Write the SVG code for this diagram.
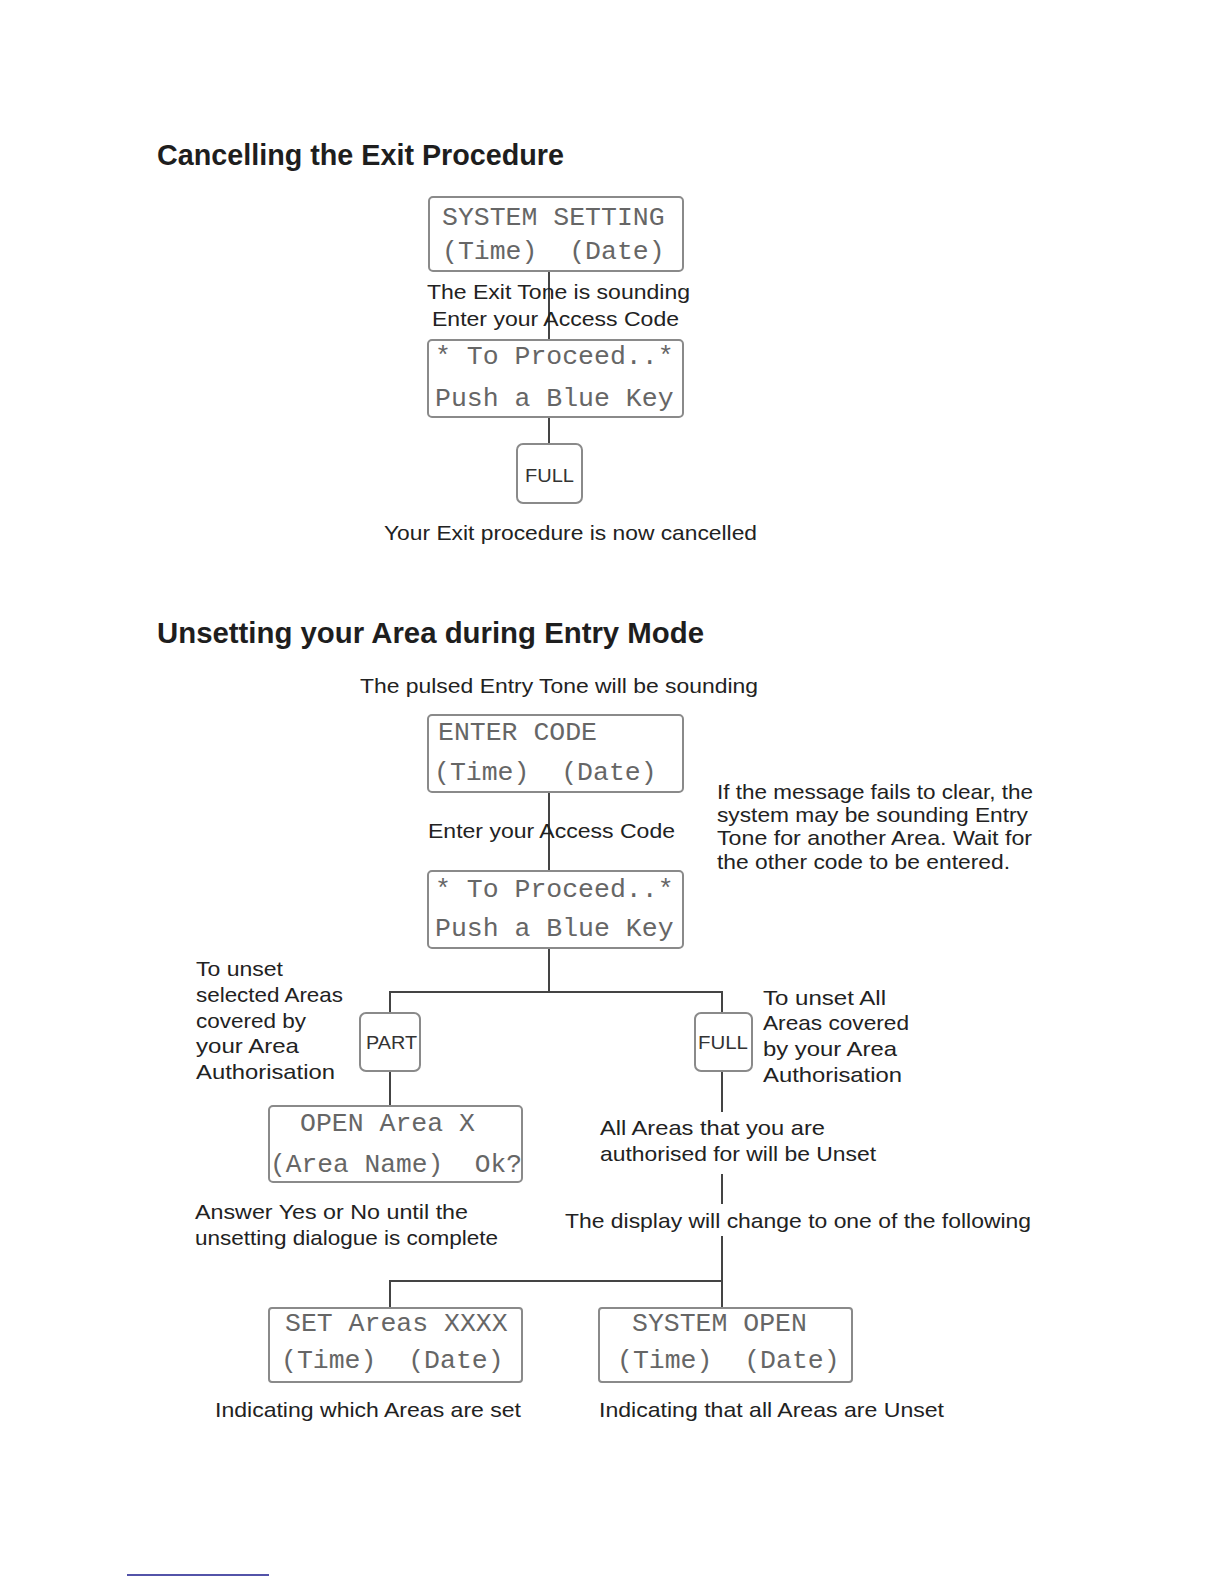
<svg xmlns="http://www.w3.org/2000/svg" width="1224" height="1584" viewBox="0 0 1224 1584" xml:space="preserve">
<style>
.bg{fill:#ffffff}
.title{font-family:"Liberation Sans",Arial,sans-serif;font-weight:bold;font-size:29px;fill:#1e1e1e}
.t{font-family:"Liberation Sans",Arial,sans-serif;font-size:21px;fill:#222222}
.m{font-family:"Liberation Mono","Courier New",monospace;font-size:26.5px;fill:#666666;white-space:pre}
.lcd{fill:#ffffff;stroke:#8a8a8a;stroke-width:2}
.key{fill:#ffffff;stroke:#8a8a8a;stroke-width:2}
.k{font-family:"Liberation Sans",Arial,sans-serif;font-size:19px;fill:#333333;text-anchor:middle}
.c{fill:none;stroke:#444444;stroke-width:2}
</style>
<rect class="bg" x="0" y="0" width="1224" height="1584"/>
<text class="title" x="157" y="165" textLength="407" lengthAdjust="spacingAndGlyphs">Cancelling the Exit Procedure</text>
<text class="title" x="157" y="643" textLength="547" lengthAdjust="spacingAndGlyphs">Unsetting your Area during Entry Mode</text>
<g id="connectors">
<path class="c" d="M549 271 V340"/>
<path class="c" d="M549 417 V444"/>
<path class="c" d="M549 792 V871"/>
<path class="c" d="M549 948 V992 M390 1013 V992 H722 V1013"/>
<path class="c" d="M390 1071 V1106"/>
<path class="c" d="M722 1071 V1112 M722 1174 V1204 M722 1236 V1281 H390 V1308 M722 1281 V1308"/>
</g>
<g id="lcd-system-setting">
<rect class="lcd" x="429" y="197" width="254" height="74" rx="4"/>
<text class="m" x="442" y="225">SYSTEM SETTING</text>
<text class="m" x="442" y="259">(Time)  (Date)</text>
</g>
<g id="label-exit-tone">
<text class="t" x="427" y="299" textLength="263" lengthAdjust="spacingAndGlyphs">The Exit Tone is sounding</text>
<text class="t" x="432" y="326" textLength="247" lengthAdjust="spacingAndGlyphs">Enter your Access Code</text>
</g>
<g id="lcd-proceed-1">
<rect class="lcd" x="428" y="340" width="255" height="77" rx="4"/>
<text class="m" x="435" y="364">* To Proceed..*</text>
<text class="m" x="435" y="406">Push a Blue Key</text>
</g>
<g id="key-full-1">
<rect class="key" x="517" y="444" width="65" height="59" rx="6"/>
<text class="k" x="549.5" y="482" textLength="49" lengthAdjust="spacingAndGlyphs">FULL</text>
</g>
<g id="label-cancelled">
<text class="t" x="384" y="540" textLength="373" lengthAdjust="spacingAndGlyphs">Your Exit procedure is now cancelled</text>
</g>
<g id="label-entry-tone">
<text class="t" x="360" y="693" textLength="398" lengthAdjust="spacingAndGlyphs">The pulsed Entry Tone will be sounding</text>
</g>
<g id="lcd-enter-code">
<rect class="lcd" x="428" y="715" width="255" height="77" rx="4"/>
<text class="m" x="438" y="740">ENTER CODE</text>
<text class="m" x="434" y="780">(Time)  (Date)</text>
</g>
<g id="label-access-code">
<text class="t" x="428" y="838" textLength="247" lengthAdjust="spacingAndGlyphs">Enter your Access Code</text>
</g>
<g id="note-message">
<text class="t" x="717" y="799" textLength="316" lengthAdjust="spacingAndGlyphs">If the message fails to clear, the</text>
<text class="t" x="717" y="822" textLength="311" lengthAdjust="spacingAndGlyphs">system may be sounding Entry</text>
<text class="t" x="717" y="845" textLength="315" lengthAdjust="spacingAndGlyphs">Tone for another Area. Wait for</text>
<text class="t" x="717" y="869" textLength="293" lengthAdjust="spacingAndGlyphs">the other code to be entered.</text>
</g>
<g id="lcd-proceed-2">
<rect class="lcd" x="428" y="871" width="255" height="77" rx="4"/>
<text class="m" x="435" y="897">* To Proceed..*</text>
<text class="m" x="435" y="936">Push a Blue Key</text>
</g>
<g id="note-part">
<text class="t" x="196" y="976" textLength="87" lengthAdjust="spacingAndGlyphs">To unset</text>
<text class="t" x="196" y="1002" textLength="147" lengthAdjust="spacingAndGlyphs">selected Areas</text>
<text class="t" x="196" y="1028" textLength="110" lengthAdjust="spacingAndGlyphs">covered by</text>
<text class="t" x="196" y="1053" textLength="103" lengthAdjust="spacingAndGlyphs">your Area</text>
<text class="t" x="196" y="1079" textLength="139" lengthAdjust="spacingAndGlyphs">Authorisation</text>
</g>
<g id="key-part">
<rect class="key" x="360" y="1013" width="60" height="58" rx="6"/>
<text class="k" x="391.5" y="1049" textLength="51" lengthAdjust="spacingAndGlyphs">PART</text>
</g>
<g id="key-full-2">
<rect class="key" x="695" y="1013" width="57" height="58" rx="6"/>
<text class="k" x="723" y="1049" textLength="50" lengthAdjust="spacingAndGlyphs">FULL</text>
</g>
<g id="note-full">
<text class="t" x="763" y="1005" textLength="123" lengthAdjust="spacingAndGlyphs">To unset All</text>
<text class="t" x="763" y="1030" textLength="146" lengthAdjust="spacingAndGlyphs">Areas covered</text>
<text class="t" x="763" y="1056" textLength="134" lengthAdjust="spacingAndGlyphs">by your Area</text>
<text class="t" x="763" y="1082" textLength="139" lengthAdjust="spacingAndGlyphs">Authorisation</text>
</g>
<g id="lcd-open-area">
<rect class="lcd" x="269" y="1106" width="253" height="76" rx="4"/>
<text class="m" x="300" y="1131">OPEN Area X</text>
<text class="m" x="270" y="1172" textLength="252" lengthAdjust="spacingAndGlyphs">(Area Name)  Ok?</text>
</g>
<g id="label-all-unset">
<text class="t" x="600" y="1135" textLength="225" lengthAdjust="spacingAndGlyphs">All Areas that you are</text>
<text class="t" x="600" y="1161" textLength="276" lengthAdjust="spacingAndGlyphs">authorised for will be Unset</text>
</g>
<g id="label-answer">
<text class="t" x="195" y="1219" textLength="273" lengthAdjust="spacingAndGlyphs">Answer Yes or No until the</text>
<text class="t" x="195" y="1245" textLength="303" lengthAdjust="spacingAndGlyphs">unsetting dialogue is complete</text>
</g>
<g id="label-display-change">
<text class="t" x="565" y="1228" textLength="466" lengthAdjust="spacingAndGlyphs">The display will change to one of the following</text>
</g>
<g id="lcd-set-areas">
<rect class="lcd" x="269" y="1308" width="253" height="74" rx="3"/>
<text class="m" x="285" y="1331">SET Areas XXXX</text>
<text class="m" x="281" y="1368">(Time)  (Date)</text>
</g>
<g id="lcd-system-open">
<rect class="lcd" x="599" y="1308" width="253" height="74" rx="3"/>
<text class="m" x="632" y="1331">SYSTEM OPEN</text>
<text class="m" x="617" y="1368">(Time)  (Date)</text>
</g>
<g id="label-indicating">
<text class="t" x="215" y="1417" textLength="306" lengthAdjust="spacingAndGlyphs">Indicating which Areas are set</text>
<text class="t" x="599" y="1417" textLength="345" lengthAdjust="spacingAndGlyphs">Indicating that all Areas are Unset</text>
</g>
<line x1="127" y1="1575" x2="269" y2="1575" stroke="#1a1a8c" stroke-width="1.5"/>
</svg>
